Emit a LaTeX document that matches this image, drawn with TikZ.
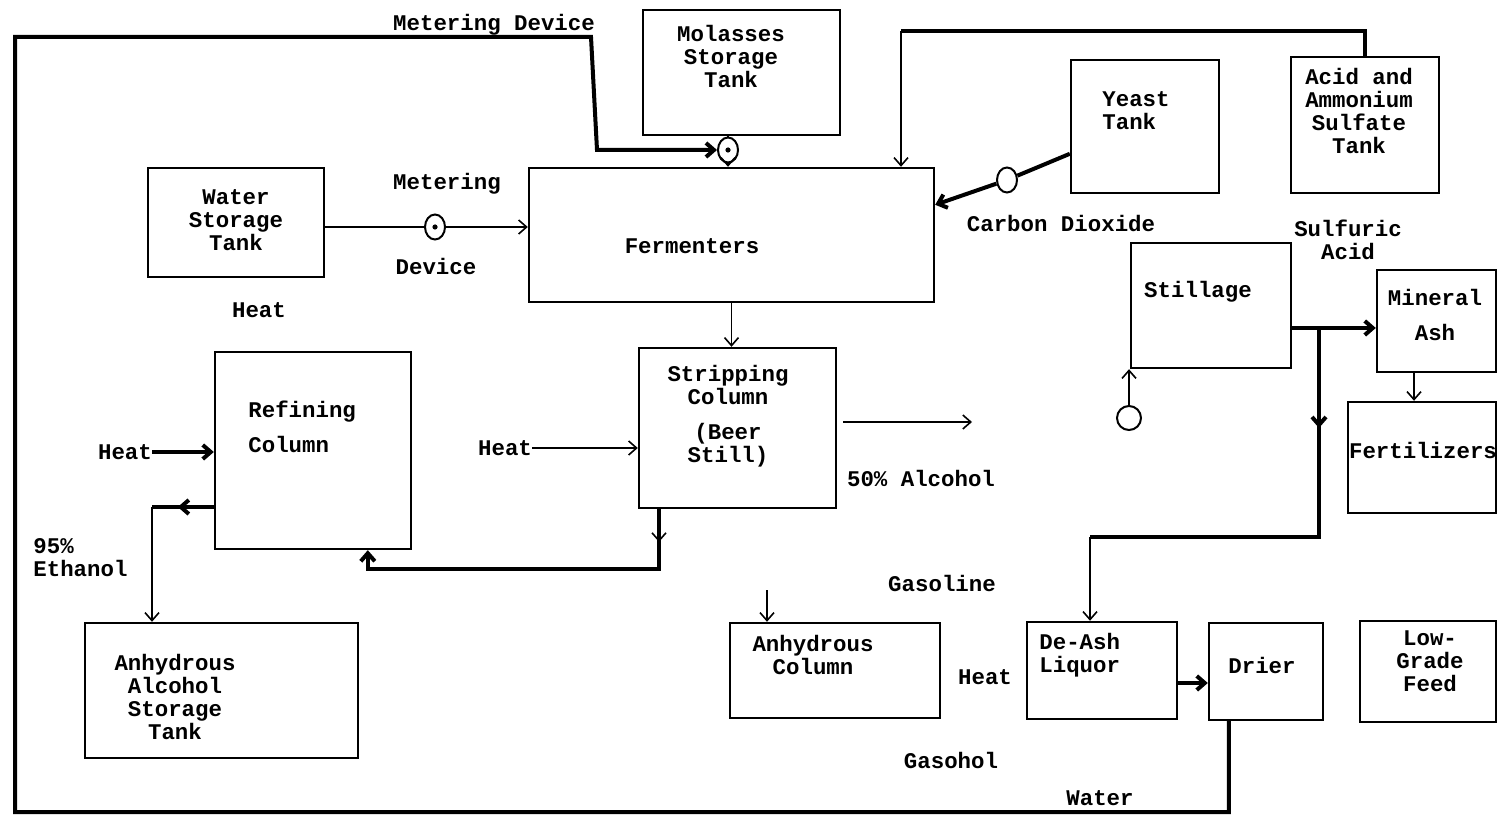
\documentclass[tikz,border=0pt]{standalone}
\usepackage{fontspec}
\setmonofont{Liberation Mono}
\usepackage{tikz}
\usetikzlibrary{positioning,arrows.meta,fit,shapes.geometric,calc}

\begin{document}
\begin{tikzpicture}[
  x=0.5pt, y=-0.5pt,
  tank/.style={draw,line width=1.2pt,inner sep=0pt},
  txt/.style={font=\ttfamily\bfseries\fontsize{11.2}{11.5}\selectfont,align=center,inner sep=0pt},
  valve/.style={draw,ellipse,line width=1pt,minimum width=10pt,minimum height=12.5pt,inner sep=0pt},
  dotvalve/.style={valve,path picture={\fill (path picture bounding box.center) circle (1.3pt);}},
  pipe/.style={line width=2pt},
  line/.style={line width=0.8pt},
  barb/.style={-{Straight Barb[length=4pt,width=7pt]}},
  flow/.style={line,barb}
]
\useasboundingbox (0,0) rectangle (1498,817);

% tanks and columns
\node[tank,fit={(643,10) (840,135)}] (molasses) {};
\node[tank,fit={(148,168) (324,277)}] (water) {};
\node[tank,fit={(529,168) (934,302)}] (fermenters) {};
\node[tank,fit={(1071,60) (1219,193)}] (yeast) {};
\node[tank,fit={(1291,57) (1439,193)}] (acid) {};
\node[tank,fit={(1131,243) (1291,368)}] (stillage) {};
\node[tank,fit={(1377,270) (1496,372)}] (mineral) {};
\node[tank,fit={(1348,402) (1496,513)}] (fertilizers) {};
\node[tank,fit={(215,352) (411,549)}] (refining) {};
\node[tank,fit={(639,348) (836,508)}] (stripping) {};
\node[tank,fit={(85,623) (358,758)}] (alcstore) {};
\node[tank,fit={(730,623) (940,718)}] (anhcol) {};
\node[tank,fit={(1027,622) (1177,719)}] (deash) {};
\node[tank,fit={(1209,623) (1323,720)}] (drier) {};
\node[tank,fit={(1360,621) (1496,722)}] (feed) {};

% texts in the boxes
\node[txt] (molassesText) at (731,57) {Molasses\\Storage\\Tank};
\node[txt] (waterText) at (236,220) {Water\\Storage\\Tank};
\node[txt] (fermText) at (692,246) {Fermenters};
\node[txt,align=left,anchor=west] (yeastText) at (1102,111) {Yeast\\Tank};
\node[txt] (acidText) at (1359,111) {Acid and\\Ammonium\\Sulfate\\Tank};
\node[txt] (stillText) at (1198,292) {Stillage};
\node[txt] (mineralText) at (1435,315) {Mineral\\[6pt]Ash};
\node[txt] (fertText) at (1423,450) {Fertilizers};
\node[txt,align=left,anchor=west] (refText) at (248,427) {Refining\\[6pt]Column};
\node[txt] (stripText) at (728,416) {Stripping\\Column\\[6pt](Beer\\Still)};
\node[txt] (alcText) at (175,697) {Anhydrous\\Alcohol\\Storage\\Tank};
\node[txt] (anhText) at (813,655) {Anhydrous\\Column};
\node[txt,align=left,anchor=west] (deashText) at (1039,655) {De-Ash\\Liquor};
\node[txt] (drierText) at (1262,665) {Drier};
\node[txt] (feedText) at (1430,661) {Low-\\Grade\\Feed};

% free labels
\node[txt] (meterTop) at (494,25) {Metering Device};
\node[txt] (meterA) at (447,184) {Metering};
\node[txt] (meterB) at (436,266) {Device};
\node[txt] (heatTop) at (259,310) {Heat};
\node[txt] (co2) at (1061,223) {Carbon Dioxide};
\node[txt] (sulfuric) at (1348,240) {Sulfuric\\Acid};
\node[txt] (heatRef) at (125,452) {Heat};
\node[txt] (heatStrip) at (505,448) {Heat};
\node[txt,align=left,anchor=west] (ethanol) at (33,558) {95\%\\Ethanol};
\node[txt] (fifty) at (921,478) {50\% Alcohol};
\node[txt] (gasoline) at (942,583) {Gasoline};
\node[txt] (heatAsh) at (985,677) {Heat};
\node[txt] (gasohol) at (951,760) {Gasohol};
\node[txt] (waterOut) at (1100,798) {Water};

% valves
\node[dotvalve] (molvalve) at (728,150) {};
\node[dotvalve] (watervalve) at (435,227) {};
\node[valve] (co2valve) at (1007,180) {};
\node[valve,minimum width=12pt,minimum height=12pt] (stillvalve) at (1129,418) {};

% bends and loose ends
\coordinate (acidbend) at (901,31);
\coordinate (alcout) at (843,422);
\coordinate (alcend) at (972,422);
\coordinate (ethbend) at (152,507);
\coordinate (ashsplit) at (1319,328);
\coordinate (ashbend) at (1090,537);
\coordinate (fertin) at (1414,372);
\coordinate (gasin) at (767,590);
\coordinate (dryin) at (1177,683);
\coordinate (stripout) at (659,508);

% connectors
\draw[pipe,barb] ($(drier.south west)+(21,0)$) |- (15,812) |- (591,37) -- (597,150) -- (molvalve);
\draw[line] (molasses.south -| molvalve) -- (molvalve);
\draw[flow] (molvalve) -- (molvalve |- fermenters.north);
\draw[line] (water.east |- watervalve) -- (watervalve);
\draw[flow] (watervalve) -- (watervalve -| fermenters.west);
\draw[pipe] (acid.north) |- (acidbend);
\draw[flow] (acidbend) -- (acidbend |- fermenters.north);
\draw[pipe] ($(yeast.north west)+(0,95)$) -- (co2valve);
\draw[pipe,barb] (co2valve) -- ($(fermenters.north east)+(0,38)$);
\draw[flow] (fermenters.south) -- (fermenters.south |- stripping.north);
\draw[flow] (alcout) -- (alcend);
\draw[pipe,barb] (stripout) |- ($(refining.south west)+(154,19)$) -- ($(refining.south west)+(154,0)$);
\draw[line,barb] (stripout) -- ++(0,34);
\draw[pipe,barb] (heatRef.east) -- (refining.west |- heatRef);
\draw[flow] (heatStrip.east) -- (stripping.west |- heatStrip);
\draw[pipe] (refining.west |- ethbend) -- (ethbend);
\draw[pipe,barb] (refining.west |- ethbend) -- ++(-36,0);
\draw[flow] (ethbend) -- (ethbend |- alcstore.north);
\draw[flow] (stillvalve) -- (stillvalve |- stillage.south);
\draw[pipe,barb] (stillage.east |- ashsplit) -- (mineral.west |- ashsplit);
\draw[pipe] (ashsplit) |- (ashbend);
\draw[pipe,barb] (ashsplit) -- ++(0,100);
\draw[flow] (ashbend) -- (ashbend |- deash.north);
\draw[flow] (fertin) -- (fertin |- fertilizers.north);
\draw[flow] (gasin) -- (gasin |- anhcol.north);
\draw[pipe,barb] (dryin) -- (dryin -| drier.west);
\end{tikzpicture}
\end{document}
